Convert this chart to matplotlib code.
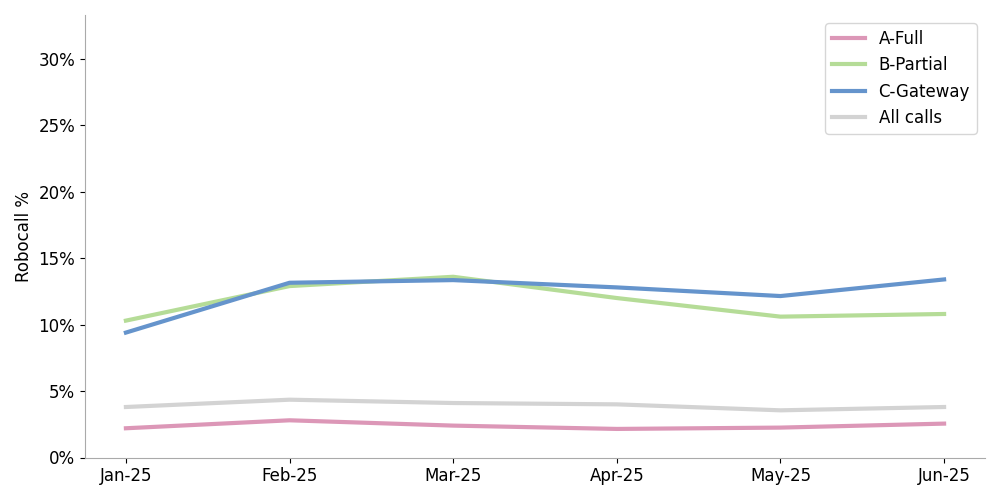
import matplotlib
matplotlib.use("Agg")
import matplotlib.pyplot as plt
from matplotlib.ticker import FuncFormatter

months = ["Jan-25", "Feb-25", "Mar-25", "Apr-25", "May-25", "Jun-25"]
a_full = [2.2, 2.8, 2.4, 2.15, 2.25, 2.55]
b_partial = [10.3, 12.9, 13.6, 12.0, 10.6, 10.8]
c_gateway = [9.4, 13.15, 13.35, 12.8, 12.15, 13.4]
all_calls = [3.8, 4.35, 4.1, 4.0, 3.55, 3.8]

fig, ax = plt.subplots(figsize=(10, 5), dpi=100)
x = range(len(months))
ax.plot(x, a_full, color="#dc97b7", lw=3, label="A-Full")
ax.plot(x, b_partial, color="#b5dc97", lw=3, label="B-Partial")
ax.plot(x, c_gateway, color="#6594cc", lw=3, label="C-Gateway")
ax.plot(x, all_calls, color="#d3d3d3", lw=3, label="All calls")
ax.set_xticks(list(x))
ax.set_xticklabels(months, fontsize=12)
ax.set_ylim(0, 33.3)
ax.set_yticks([0, 5, 10, 15, 20, 25, 30])
ax.yaxis.set_major_formatter(FuncFormatter(lambda v, p: f"{v:.0f}%"))
ax.tick_params(axis="y", labelsize=12)
ax.set_xlim(-0.25, 5.25)
ax.set_ylabel("Robocall %", fontsize=12)
for s in ["top", "right"]:
    ax.spines[s].set_visible(False)
for s in ["left", "bottom"]:
    ax.spines[s].set_color("#aaaaaa")
ax.legend(loc="upper right", fontsize=12)
plt.subplots_adjust(left=0.085, right=0.985, top=0.97, bottom=0.085)
fig.savefig("out.png")
